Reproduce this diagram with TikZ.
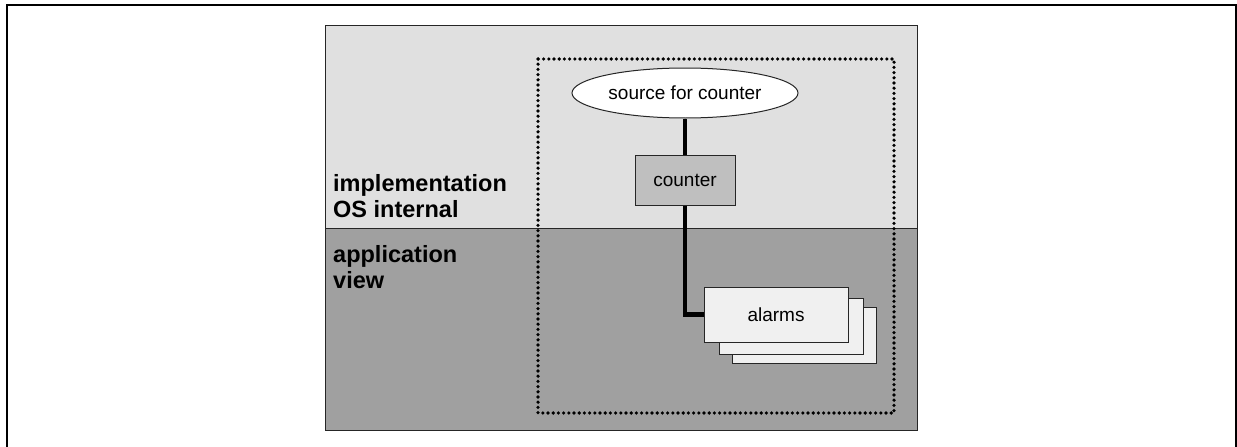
\documentclass[tikz,border=0pt]{standalone}
\usepackage{fontspec}
\setmainfont{Liberation Sans}
\usetikzlibrary{shapes.geometric}
\definecolor{toplight}{gray}{0.878}
\definecolor{botdark}{gray}{0.627}
\definecolor{counterfill}{gray}{0.75}
\definecolor{alarmfill}{gray}{0.94}
\definecolor{edgegray}{gray}{0.15}
\tikzset{
  boxedge/.style={draw=edgegray, line width=1pt},
  alarmbox/.style={boxedge, fill=alarmfill, minimum width=144pt, minimum height=55pt, inner sep=0pt},
  thinlabel/.style={font=\fontsize{19}{22}\selectfont},
  sidelabel/.style={font=\fontsize{23.5}{26}\selectfont\bfseries, align=left, anchor=base west, inner sep=0pt},
  link/.style={line width=4.5pt, black},
  zone/.style={draw, dash pattern=on 0pt off 5.2pt, line cap=round, line width=3.6pt}
}
\begin{document}
\begin{tikzpicture}[x=1pt,y=-1pt]
\useasboundingbox (0,0) rectangle (1237,447);
% outer frame (no bottom edge)
\draw[line width=2pt] (7,447) -- (7,5) -- (1236,5) -- (1236,447);
% two bands
\fill[toplight] (325,25) rectangle (917,228);
\fill[botdark] (325,228) rectangle (917,430);
\draw[boxedge] (325,228) -- (917,228);
\draw[boxedge] (325,25) rectangle (917,430);
% labels (base anchor = last line's baseline)
\node[sidelabel] (impl) at (333,217) {implementation\\OS internal};
\node[sidelabel] (appv) at (333,288) {application\\view};
% dotted zone
\draw[zone] (538,59) rectangle (894,413);
% nodes
\node[ellipse, boxedge, fill=white, minimum width=226pt, minimum height=50pt, inner sep=0pt, thinlabel] (src) at (685,93) {source for counter};
\node[rectangle, boxedge, fill=counterfill, minimum width=100pt, minimum height=50pt, inner sep=0pt, thinlabel] (cnt) at (685,180) {counter};
\node[alarmbox, minimum height=56pt] (al3) at (804,335) {};
\node[alarmbox, minimum height=56pt] (al2) at (791,326) {};
\node[alarmbox, thinlabel] (al1) at (776,314.5) {alarms};
% connectors
\draw[link] (src.south) -- (cnt.north);
\draw[link] (cnt.south) |- (al1.west);
\end{tikzpicture}
\end{document}
